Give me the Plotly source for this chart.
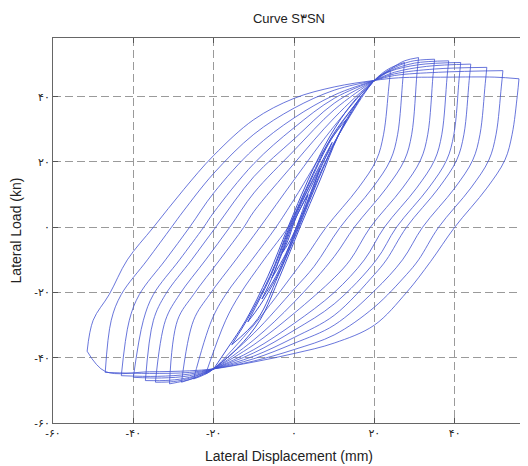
import plotly.graph_objects as go

# ---------------- data (mm, kN) ----------------
x_tick_vals = [-60, -40, -20, 0, 20, 40]
x_tick_text = ["-۶۰", "-۴۰", "-۲۰", "۰", "۲۰", "۴۰"]
y_tick_vals = [-60, -40, -20, 0, 20, 40]
y_tick_text = ["-۶۰", "-۴۰", "-۲۰", "۰", "۲۰", "۴۰"]

# large cycles: reloading branches (negative tip -> positive tip)
big_asc_x = [
    [-22, -17, -13.5, -7.5, -1.5, 0, 10, 20, 22, 24],
    [-25, -20.5, -17, -10.5, -4.5, 0, 10, 20, 23.5, 27.5],
    [-28, -25, -21, -14.5, -8.5, 0, 10, 20, 24, 27.5, 31],
    [-31, -29, -25, -18.5, -12.5, -10, 0, 10, 20, 24, 29, 35],
    [-34.5, -32, -28.5, -22, -16, -10, 0, 10, 20, 24, 30, 38.5],
    [-37, -35, -32, -25.5, -19.5, -10, 0, 10, 20, 24, 31, 41.5],
    [-40, -37.5, -35, -28.5, -22.5, -20, -10, 0, 10, 20, 25, 33, 44],
    [-43, -41, -38.5, -32, -26, -20, -10, 0, 10, 20, 25, 35, 48],
    [-47, -45.5, -43, -36.5, -30.5, -27.5, -20, -10, 0, 10, 20, 25, 36, 52],
    [-51.5, -50, -46, -41.5, -35, -27.5, -20, -10, 0, 10, 20, 26, 38, 50, 56],
]
big_asc_y = [
    [-45, -28.5, -20.6, -10, 0, 3.5, 26, 45, 46.8, 48],
    [-46.5, -28.5, -20.6, -10, 0, 8.5, 28.5, 45, 48.5, 50.5],
    [-47.5, -28.5, -20.6, -10, 0, 14.5, 31, 45, 48.5, 51, 52],
    [-48, -28.5, -20.6, -10, 0, 4.8, 19.5, 33.5, 45, 48.3, 50.8, 51.5],
    [-47.5, -28.5, -20.6, -10, 0, 10.5, 23.5, 36, 45, 48, 50.3, 51],
    [-47, -28.5, -20.6, -10, 0, 15.5, 27, 38, 45, 47.8, 49.8, 50.5],
    [-46, -28.5, -20.6, -10, 0, 4.5, 19.5, 30.5, 39.5, 45, 47.5, 49.3, 50],
    [-45.5, -28.5, -20.6, -10, 0, 10.5, 24, 33.5, 40.5, 45, 47, 48.5, 49],
    [-44.5, -28.5, -20.6, -10, 0, 5, 16.5, 28.5, 36.5, 42, 45, 46.5, 47.5, 48],
    [-38, -28.5, -20.6, -10, 0, 11.5, 22, 33, 39.5, 43, 45, 45.8, 46, 46, 45.5],
]

# large cycles: unloading branches (positive tip -> negative tip)
big_desc_x = [
    [24, 23.6, 22.3, 20.5, 16, 8, 3, 0, -10, -20, -22],
    [27.5, 27.1, 25.8, 24, 19.5, 11.5, 5, 0, -10, -20, -22.5, -25],
    [31, 30.6, 29.3, 27.5, 23, 15, 10, 0, -10, -20, -24, -28],
    [35, 34.6, 33.3, 31.5, 27, 19, 14, 10, 0, -10, -20, -25, -31],
    [38.5, 38.1, 36.8, 35, 30.5, 22.5, 17.5, 10, 0, -10, -20, -26, -30, -34.5],
    [41.5, 41.1, 39.8, 38, 33.5, 25.5, 20.5, 10, 0, -10, -20, -26, -31, -37],
    [44, 43.6, 42.3, 40.5, 36, 28, 23, 20, 10, 0, -10, -20, -26, -33, -40],
    [48, 47.6, 46.3, 44.5, 40, 32, 27, 20, 10, 0, -10, -20, -26, -34, -43],
    [52, 51.6, 50.3, 48.5, 44, 36, 31, 28, 20, 10, 0, -10, -20, -26, -36, -47],
    [56, 55.6, 54.3, 52.5, 48, 40, 34, 28, 20, 10, 0, -10, -20, -26, -36, -47, -51.5],
]
big_desc_y = [
    [48, 43, 28.5, 20.6, 12, 0, -9, -14, -30, -43.4, -45],
    [50.5, 45.5, 28.5, 20.6, 12, 0, -12, -19, -32.5, -43.4, -45.3, -46.5],
    [52, 47, 28.5, 20.6, 12, 0, -9, -23, -34.5, -43.4, -45.8, -47.5],
    [51.5, 46.5, 28.5, 20.6, 12, 0, -10, -15.5, -26.4, -36, -43.4, -46.3, -48],
    [51, 46, 28.5, 20.6, 12, 0, -10, -20, -29.5, -37.5, -43.4, -46.3, -47.3, -47.5],
    [50.5, 45.5, 28.5, 20.6, 12, 0, -10, -23.5, -31.6, -38.5, -43.4, -46, -46.9, -47],
    [50, 45, 28.5, 20.6, 12, 0, -10, -14.5, -27, -33.8, -39.5, -43.4, -45.5, -46.2, -46],
    [49, 44, 28.5, 20.6, 12, 0, -10, -19.5, -30, -35.6, -40.3, -43.4, -45, -45.7, -45.5],
    [48, 43, 28.5, 20.6, 12, 0, -10, -14.5, -24.5, -33, -37.5, -41, -43.4, -44.5, -44.8, -44.5],
    [45.5, 40.5, 28.5, 20.6, 12, 0, -10.5, -20, -30, -35.5, -38.7, -41.3, -43.4, -44, -44.3, -44.2, -38],
]

# small cycles in the middle (reloading / unloading)
small_asc_x = [
    [-3, -1.5, 0.5, 3.5],
    [-5.5, -3, -0.6, 2.5, 6.5],
    [-8, -5.3, -0.8, 4.6, 9.5],
    [-11.5, -5.8, -1, 4.2, 9.3, 13],
    [-15.5, -11.5, -6, -1.2, 4, 9.5, 16.5],
    [-20, -16.5, -12, -6.5, -1.5, 3.5, 9, 14.5, 20],
]
small_asc_y = [
    [-8, -4, 3, 10],
    [-15.5, -8, 0, 8, 18],
    [-22, -15, 0, 14.5, 26],
    [-29, -15, 0, 14.5, 27, 33],
    [-36, -28, -15, 0, 14.5, 28, 39.5],
    [-43.4, -37, -28.5, -15, 0, 14.5, 28, 38, 45],
]
small_desc_x = [
    [3.5, 1.8, -0.5, -3],
    [6.5, 3.5, 0.6, -2, -5.5],
    [9.5, 5.4, 0.8, -4.5, -8],
    [13, 10.5, 5.8, 1, -4.2, -8.5, -11.5],
    [16.5, 11, 6, 1.2, -4, -9, -15.5],
    [20, 15.5, 11, 6.5, 1.5, -3.5, -8.5, -14, -20],
]
small_desc_y = [
    [10, 4, -3, -8],
    [18, 8, 0, -8, -15.5],
    [26, 14.5, 0, -15, -22],
    [33, 27, 14.5, 0, -15, -24, -29],
    [39.5, 28, 14.5, 0, -15, -28, -36],
    [45, 38, 28, 14.5, 0, -15, -28.5, -37, -43.4],
]

# ---------------- figure ----------------
line_color = "#4253d2"
fig = go.Figure()


def add_branch(xs, ys, width=0.8):
    fig.add_trace(go.Scatter(
        x=xs, y=ys, mode="lines",
        line=dict(color=line_color, width=width, shape="spline", smoothing=1.0),
        hoverinfo="skip", showlegend=False,
    ))


for xs, ys in zip(small_asc_x, small_asc_y):
    add_branch(xs, ys, 1.0)
for xs, ys in zip(small_desc_x, small_desc_y):
    add_branch(xs, ys, 1.0)
for xs, ys in zip(big_asc_x, big_asc_y):
    add_branch(xs, ys)
for xs, ys in zip(big_desc_x, big_desc_y):
    add_branch(xs, ys)

font_family = "Liberation Sans, Arial, DejaVu Sans, sans-serif"
axis_common = dict(
    showgrid=True, gridcolor="#9a9a9a", gridwidth=1, griddash="8px,4px",
    zeroline=False, showline=True, linecolor="#666666", linewidth=1,
    mirror="ticks", ticks="inside", ticklen=5, tickcolor="#555555",
    tickfont=dict(family=font_family, size=11, color="#222222"),
)

# the page body has an 8px margin, so the figure is drawn 8px in from the corner
fig.update_layout(
    width=520, height=458,
    margin=dict(l=45, r=3, t=30, b=43),
    paper_bgcolor="white", plot_bgcolor="white",
    title=dict(text="Curve S۳SN", xref="paper", x=0.5, xanchor="center",
               y=0.978, yanchor="middle",
               font=dict(family=font_family, size=13, color="#222222")),
    xaxis=dict(range=[-60, 57.5], tickvals=x_tick_vals, ticktext=x_tick_text,
               title=dict(text="Lateral Displacement (mm)", standoff=12,
                          font=dict(family=font_family, size=14, color="#222222")),
               automargin=False, **axis_common),
    yaxis=dict(range=[-60, 58], tickvals=y_tick_vals, ticktext=y_tick_text,
               title=dict(text="Lateral Load (kn)", standoff=10,
                          font=dict(family=font_family, size=14, color="#222222")),
               automargin=False, **axis_common),
)

fig.write_html("out.html")
